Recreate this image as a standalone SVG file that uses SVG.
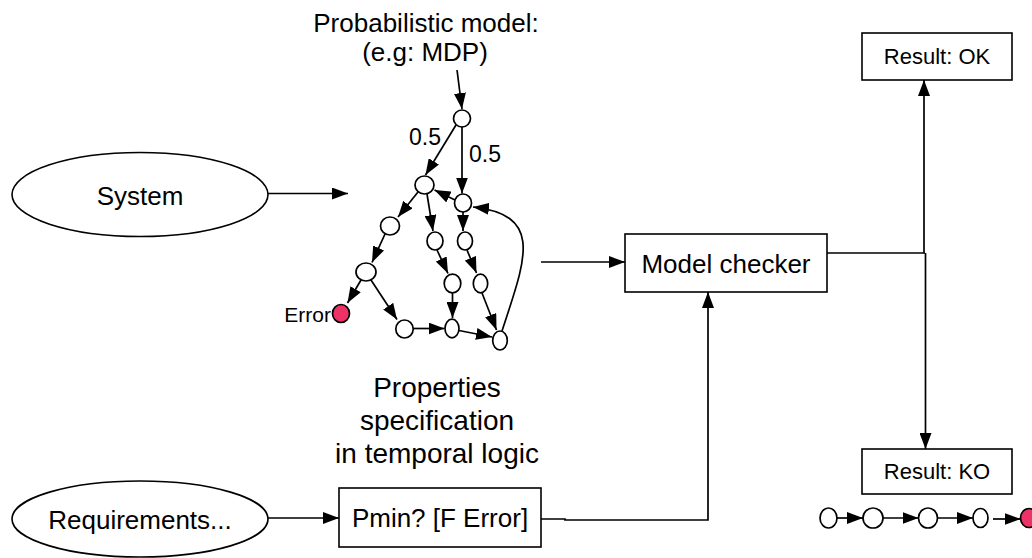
<svg xmlns="http://www.w3.org/2000/svg" width="1032" height="558" viewBox="0 0 1032 558">
  <style>
    text { font-family: "Liberation Sans", Arial, Helvetica, sans-serif; fill: #000; text-anchor: middle; }
    .big { font-size: 26px; }
    .props { font-size: 28px; }
    .res { font-size: 22px; }
    .prob { font-size: 23px; }
    .shape { fill: #fff; stroke: #000; stroke-width: 1.6; }
    .st { fill: #fff; stroke: #000; stroke-width: 1.7; }
    .err { fill: #ED3366; stroke: #000; stroke-width: 1.7; }
    .wire { fill: none; stroke: #000; stroke-width: 1.7; }
    .arr { fill: none; stroke: #000; stroke-width: 1.7; marker-end: url(#head); }
  </style>
  <defs>
    <!-- filled triangular arrowhead shared by every connector -->
    <marker id="head" markerUnits="userSpaceOnUse" markerWidth="17" markerHeight="12" refX="16" refY="6" orient="auto">
      <path d="M0,0 L16,6 L0,12 Z" fill="#000"/>
    </marker>
  </defs>
  <rect width="1032" height="558" fill="#fff"/>

  <!-- captions -->
  <g id="caption-model">
    <text class="big" x="426" y="32">Probabilistic model:</text>
    <text class="big" x="425" y="61">(e.g: MDP)</text>
  </g>
  <g id="caption-props">
    <text class="props" x="437" y="397">Properties</text>
    <text class="props" x="437" y="430">specification</text>
    <text class="props" x="437" y="463">in temporal logic</text>
  </g>

  <!-- input nodes -->
  <g id="system">
    <ellipse class="shape" cx="140" cy="194.5" rx="128" ry="42"/>
    <text class="big" x="140" y="205">System</text>
  </g>
  <g id="requirements">
    <ellipse class="shape" cx="140" cy="519" rx="128" ry="38"/>
    <text class="big" x="140" y="529">Requirements...</text>
  </g>
  <g id="formula">
    <rect class="shape" x="339" y="488" width="202" height="59"/>
    <text class="big" x="440" y="527">Pmin? [F Error]</text>
  </g>
  <g id="model-checker">
    <rect class="shape" x="625" y="234" width="202" height="58"/>
    <text class="big" x="726" y="273">Model checker</text>
  </g>
  <g id="result-ok">
    <rect class="shape" x="862" y="33" width="150" height="47"/>
    <text class="res" x="937" y="64">Result: OK</text>
  </g>
  <g id="result-ko">
    <rect class="shape" x="862" y="449" width="150" height="45"/>
    <text class="res" x="937" y="479">Result: KO</text>
  </g>

  <!-- MDP states -->
  <g id="mdp-states">
    <ellipse class="st" cx="462" cy="118.5" rx="8.5" ry="8.5"/>
    <ellipse class="st" cx="424.5" cy="185" rx="9.5" ry="9"/>
    <ellipse class="st" cx="463" cy="203" rx="8.5" ry="9"/>
    <ellipse class="st" cx="390" cy="226" rx="9.5" ry="9"/>
    <ellipse class="st" cx="435" cy="241" rx="8" ry="9"/>
    <ellipse class="st" cx="465" cy="241" rx="7.5" ry="9"/>
    <ellipse class="st" cx="366" cy="272" rx="10" ry="9"/>
    <ellipse class="st" cx="452.5" cy="283.5" rx="8.3" ry="9.3"/>
    <ellipse class="st" cx="480.5" cy="283.5" rx="7.2" ry="9.3"/>
    <ellipse class="st" cx="404.5" cy="329" rx="8.7" ry="9"/>
    <ellipse class="st" cx="452" cy="328.5" rx="7" ry="9.3"/>
    <ellipse class="st" cx="500" cy="340.5" rx="7.3" ry="9.5"/>
    <ellipse class="err" cx="341" cy="313.5" rx="8.5" ry="9"/>
    <text class="prob" x="331" y="322" style="text-anchor:end;font-size:21px">Error</text>
    <text class="prob" x="425" y="145">0.5</text>
    <text class="prob" x="485" y="162">0.5</text>
  </g>

  <!-- counterexample trace -->
  <g id="trace">
    <ellipse class="st" cx="828.5" cy="518" rx="8.5" ry="10"/>
    <ellipse class="st" cx="873" cy="518" rx="10" ry="10"/>
    <ellipse class="st" cx="928" cy="518" rx="9.5" ry="10"/>
    <ellipse class="st" cx="980.5" cy="518" rx="7.5" ry="9.5"/>
    <ellipse class="err" cx="1029" cy="518" rx="8.5" ry="9.5"/>
  </g>

  <g id="connectors">
    <!-- main flow -->
    <path class="arr" d="M268,193.5 H348"/>
    <path class="arr" d="M268,518 H339"/>
    <path class="arr" d="M541,262 H625"/>
    <path class="arr" d="M541,519 H565 V520 H708 V292"/>
    <path class="wire" d="M827,253 H925"/>
    <path class="arr" d="M924,253 V80"/>
    <path class="arr" d="M925.5,253 V449"/>

    <!-- MDP transitions -->
    <path class="arr" d="M457,70 L462,109"/>
    <path class="arr" d="M456,125 L425.5,175"/>
    <path class="arr" d="M462,127 V193.5"/>
    <path class="arr" d="M455,200 L434.5,190"/>
    <path class="arr" d="M418,192 L398,217"/>
    <path class="arr" d="M427,194 L433,231"/>
    <path class="arr" d="M463,212 V231"/>
    <path class="arr" d="M385,234 L372,262.5"/>
    <path class="arr" d="M361,280 L347.5,303"/>
    <path class="arr" d="M371,280 L397,319.5"/>
    <path class="arr" d="M437,250 L448,273.5"/>
    <path class="arr" d="M467,250 L476.5,273"/>
    <path class="arr" d="M452.5,293 V318"/>
    <path class="arr" d="M413,328.5 H444.5"/>
    <path class="arr" d="M459,330.5 L492,337"/>
    <path class="arr" d="M482,293 L496.5,330"/>
    <path class="arr" d="M502,331 C525,260 545,215 473,207"/>

    <!-- trace transitions -->
    <path class="arr" d="M837,518 H863"/>
    <path class="arr" d="M883,518 H918.5"/>
    <path class="arr" d="M937.5,518 H973"/>
    <path class="arr" d="M993,519 H1020.5"/>
  </g>
</svg>
